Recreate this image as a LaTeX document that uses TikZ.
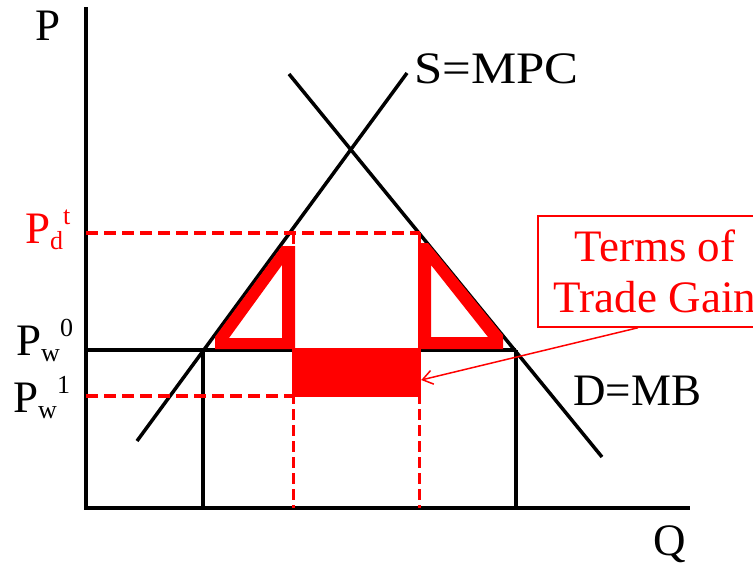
\documentclass[tikz,border=0pt]{standalone}
\usepackage{fontspec}
\setmainfont{Liberation Serif}
\usetikzlibrary{arrows.meta}
\newcommand{\bigf}{\fontsize{45}{51}\selectfont}
\newcommand{\smallf}{\fontsize{26}{26}\selectfont}
\newcommand{\plab}[2]{P{\smallf\raisebox{-6pt}{#1}\raisebox{19pt}{#2}}}
\begin{document}
\begin{tikzpicture}[x=1pt,y=-1pt,
  axis/.style={line width=4.5pt},
  curve/.style={line width=3.5pt},
  rdash/.style={red,line width=4pt,dash pattern=on 12pt off 6pt},
  vdash/.style={red,line width=3pt,dash pattern=on 11pt off 5pt},
  lbl/.style={inner sep=0pt,anchor=base west,font=\bigf},
]
\useasboundingbox (0,0) rectangle (753,565);
% black lines
\draw[axis] (86,7) -- (86,510);
\draw[axis] (84,508) -- (690,508);
\draw[curve] (137,441) -- (407,73);
\draw[curve] (289,74) -- (602,457);
\draw[axis] (86,350) -- (516,350);
\draw[axis] (203,350) -- (203,508);
\draw[axis] (516,350) -- (516,508);
% red dashed
\draw[rdash] (86,233) -- (420,233);
\draw[rdash] (86,396) -- (293,396);
\draw[vdash] (293,233) -- (293,508);
\draw[vdash] (419,233) -- (419,508);
% triangles
\fill[red, even odd rule] (282,246) -- (215,337) -- (215,349) -- (295,349) -- (295,246) -- cycle
  (229,338) -- (282,338) -- (282,265) -- cycle;
\fill[red, even odd rule] (418,243) -- (428,243) -- (503,335) -- (503,349) -- (418,349) -- cycle
  (431,265) -- (431,337) -- (488,337) -- cycle;
% gain rectangle
\node[fill=red, inner sep=0pt, minimum width=129pt, minimum height=49pt] (gain) at (356.5,372.5) {};
% legend
\node[draw=red, line width=1.5pt, text=red, align=center, font=\bigf, minimum width=234pt, minimum height=111pt, inner sep=0pt] (legend) at (655,271.5) {Terms of\\Trade Gain};
\draw[red, line width=1.5pt, -{Straight Barb[length=10pt,width=14pt]}] ([xshift=-17pt]legend.south) -- ([yshift=-7.5pt]gain.east);
% labels
\node[lbl] (P) at (35,40) {P};
\node[lbl] (smpc) at (414,83) {\scalebox{1.13}[1]{S=MPC}};
\node[lbl] (dmb) at (573,405) {D=MB};
\node[lbl] (q) at (653,555) {Q};
\node[lbl,text=red] (pd) at (25,243) {\plab{d}{t}};
\node[lbl] (pw0) at (16,355) {\plab{w}{0}};
\node[lbl] (pw1) at (13,412) {\plab{w}{1}};
\end{tikzpicture}
\end{document}
